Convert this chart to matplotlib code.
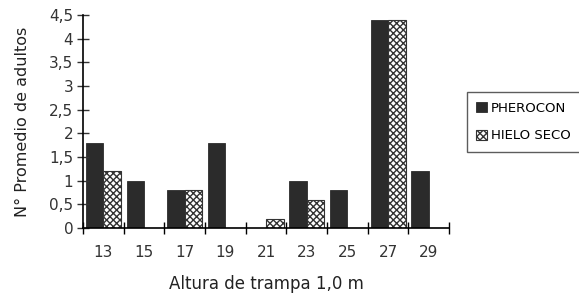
import numpy as np
import matplotlib
matplotlib.use("Agg")
import matplotlib.pyplot as plt

# trap heights and mean adult counts
alturas = ["13", "15", "17", "19", "21", "23", "25", "27", "29"]
pherocon = [1.8, 1.0, 0.8, 1.8, 0.0, 1.0, 0.8, 4.4, 1.2]
hielo_seco = [1.2, 0.0, 0.8, 0.0, 0.2, 0.6, 0.0, 4.4, 0.0]
yticks = [0, 0.5, 1, 1.5, 2, 2.5, 3, 3.5, 4, 4.5]
ylabels = ["0", "0,5", "1", "1,5", "2", "2,5", "3", "3,5", "4", "4,5"]

plt.rcParams["hatch.linewidth"] = 1.0
fig = plt.figure(figsize=(5.79, 2.99), dpi=100)
ax = fig.add_axes([0.1434, 0.2375, 0.6321, 0.7123])

x = np.arange(len(alturas))
w = 0.43
dark = "#2b2b2b"
ax.bar(x + 0.07, pherocon, width=w, align="edge", color=dark,
       edgecolor=dark, linewidth=0.6, label="PHEROCON")
ax.bar(x + 0.07 + w, hielo_seco, width=w, align="edge", color="white",
       edgecolor="#333333", hatch="xxxxx", linewidth=0.8, label="HIELO SECO")

ax.set_xlim(0, len(alturas))
ax.set_ylim(0, 4.5)
for s in ["top", "right"]:
    ax.spines[s].set_visible(False)
ax.spines["left"].set_linewidth(1.2)
ax.spines["bottom"].set_linewidth(1.2)

ax.set_xticks(np.arange(len(alturas) + 1))
ax.set_xticklabels([])
ax.set_xticks(x + 0.5, minor=True)
ax.set_xticklabels(alturas, minor=True)
ax.tick_params(axis="x", which="major", direction="inout", length=8, width=1)
ax.tick_params(axis="x", which="minor", length=0, pad=12, labelsize=11,
               colors="#333333")
ax.set_yticks(yticks)
ax.set_yticklabels(ylabels)
ax.tick_params(axis="y", direction="inout", length=8, width=1, labelsize=11,
               colors="#333333", pad=3)

ax.set_xlabel("Altura de trampa 1,0 m", fontsize=12, labelpad=11,
              color="#222222")
ax.set_ylabel("N° Promedio de adultos", fontsize=11.5, labelpad=14,
              color="#222222")

ax.legend(loc="upper left", bbox_to_anchor=(1.03, 0.67), frameon=True,
          fancybox=False, edgecolor="#333333", fontsize=9.5,
          handlelength=0.8, handleheight=0.8, handletextpad=0.3,
          labelspacing=1.1, borderpad=0.75)

fig.savefig("out.png", dpi=100)
